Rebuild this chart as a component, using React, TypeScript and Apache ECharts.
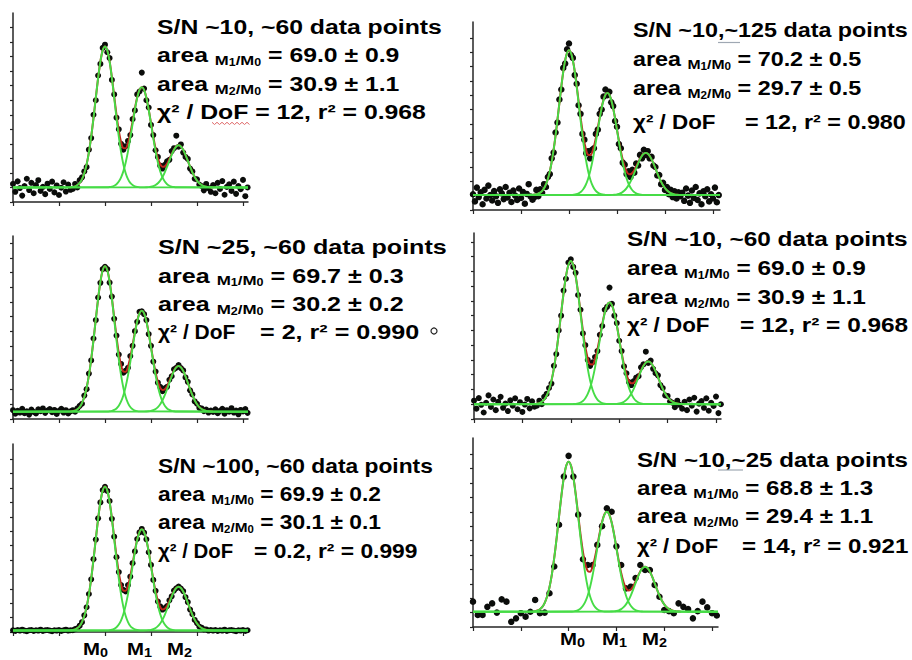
import React, { useEffect, useRef } from "react";
import * as echarts from "echarts";

// ---------- axis ticks ----------
const X_TICKS = [0, 1, 2, 3, 4, 5];
const Y_TICKS = [0, 0.5, 1, 1.5, 2, 2.5, 3, 3.5, 4, 4.5, 5, 5.5, 6];

// ---------- fitted peaks (x units; M0, M1, M2) ----------
const PEAK_CENTERS = [2.0, 2.8, 3.6];
// fitted peak profile read at 0.05 x-unit steps, from -0.75 to +0.75
const PROFILE_STEP = 0.05;
const PROFILE = [
  0.002, 0.004, 0.008, 0.017, 0.032, 0.059, 0.101, 0.163, 0.249, 0.36, 0.492,
  0.635, 0.775, 0.893, 0.972, 1, 0.972, 0.893, 0.775, 0.635, 0.492, 0.36, 0.249,
  0.163, 0.101, 0.059, 0.032, 0.017, 0.008, 0.004, 0.002,
];
const FIT_BASE = [0.5, 0.52, 0.25, 0.5, 0.05, 0.53];
const FIT_M0 = [4.85, 5.05, 4.97, 4.85, 5.0, 5.21];
const FIT_M1 = [3.45, 3.56, 3.45, 3.45, 3.52, 3.47];
const FIT_M2 = [1.45, 1.47, 1.56, 1.45, 1.52, 1.56];

// ---------- data points (y values at regular x sampling) ----------
const SAMPLE_STEP = [0.05, 0.04, 0.05, 0.05, 0.05, 0.1];

const SN10_60 = [
  0.62, 0.35, 0.71, 0.48, 0.22, 0.55, 0.8, 0.41, 0.66, 0.3, 0.58, 0.75, 0.38,
  0.52, 0.27, 0.63, 0.45, 0.7, 0.33, 0.57, 0.24, 0.49, 0.68, 0.36, 0.6, 0.42,
  0.45, 0.62, 0.5, 0.75, 0.85, 1.05, 1.2, 1.8, 2.2, 3.0, 3.5, 4.35, 4.75, 5.3,
  5.41, 5.15, 4.95, 4.2, 3.7, 2.9, 2.5, 2.0, 1.8, 1.92, 2.1, 2.3, 2.85, 3.15,
  3.7, 3.8, 4.45, 3.9, 3.5, 3.25, 2.65, 2.3, 1.78, 1.55, 1.25, 1.15, 1.28, 1.4,
  1.45, 1.75, 1.85, 2.28, 1.9, 1.98, 1.7, 1.55, 1.48, 1.15, 1.05, 0.8, 0.78,
  0.6, 0.55, 0.4, 0.62, 0.48, 0.35,
  0.58, 0.3, 0.66, 0.45, 0.72, 0.25, 0.52, 0.61, 0.38, 0.7, 0.28, 0.55, 0.44,
  0.76, 0.2, 0.5,
];

const SN10_125 = [
  0.55, 0.3, 0.78, 0.45, 0.62, 0.2, 0.7, 0.4, 0.85, 0.52, 0.33, 0.66, 0.48,
  0.25, 0.72, 0.58, 0.38, 0.8, 0.44, 0.6, 0.28, 0.68, 0.5, 0.35, 0.75, 0.42,
  0.63, 0.22, 0.56, 0.9, 0.47, 0.36,
  0.45, 0.7, 0.48, 0.72, 0.6, 0.9, 0.8, 1.15, 1.25, 1.8, 2.0, 2.7, 3.05, 3.85,
  4.2, 4.95, 5.1, 5.6, 5.8, 5.4, 5.3, 4.7, 4.4, 3.65, 3.35, 2.65, 2.45, 1.98,
  2.05, 1.8, 2.1, 2.15, 2.65, 2.8, 3.35, 3.5, 3.95, 4.2, 4.0, 4.12, 3.75, 3.62,
  3.1, 2.9, 2.3, 2.15, 1.65, 1.58, 1.25, 1.35, 1.15, 1.4, 1.3, 1.62, 1.55,
  1.92, 1.8, 2.1, 1.92, 2.05, 1.8, 1.85, 1.55, 1.5, 1.2, 1.22, 0.9, 0.95, 0.7,
  0.8, 0.55, 0.7, 0.45, 0.65, 0.4, 0.62, 0.48,
  0.6, 0.32, 0.75, 0.5, 0.25, 0.68, 0.42, 0.8, 0.35, 0.58, 0.2, 0.65, 0.48,
  0.72, 0.3, 0.55, 0.4, 0.78, 0.27, 0.52,
];

const SN25_60 = [
  0.3, 0.18, 0.28, 0.22, 0.35, 0.2, 0.26, 0.15, 0.32, 0.24, 0.19, 0.33, 0.27,
  0.36, 0.21, 0.29, 0.34, 0.23, 0.31, 0.17, 0.28, 0.35, 0.22, 0.3, 0.19, 0.26,
  0.3, 0.25, 0.36, 0.45, 0.52, 0.8, 1.02, 1.55, 2.0, 2.75, 3.38, 4.15, 4.65,
  5.12, 5.2, 5.12, 4.66, 4.18, 3.42, 2.85, 2.2, 1.88, 1.58, 1.65, 1.75, 2.15,
  2.5, 3.0, 3.32, 3.66, 3.68, 3.58, 3.38, 2.9, 2.5, 1.96, 1.62, 1.24, 1.1, 0.95,
  1.05, 1.1, 1.34, 1.46, 1.7, 1.75, 1.84, 1.74, 1.66, 1.42, 1.27, 0.98, 0.84,
  0.6, 0.52, 0.38, 0.36, 0.27, 0.32, 0.22, 0.29,
  0.24, 0.33, 0.2, 0.28, 0.35, 0.18, 0.3, 0.25, 0.37, 0.22, 0.29, 0.16, 0.31,
  0.26, 0.34, 0.21,
];

const SN100_60 = [
  0.06, 0.04, 0.07, 0.05, 0.08, 0.05, 0.03, 0.06, 0.07, 0.04, 0.06, 0.05, 0.08,
  0.04, 0.06, 0.07, 0.05, 0.03, 0.06, 0.05, 0.07, 0.04, 0.06, 0.08, 0.05, 0.06,
  0.06, 0.1, 0.13, 0.22, 0.34, 0.58, 0.86, 1.32, 1.83, 2.53, 3.21, 3.95, 4.5,
  4.93, 5.04, 4.9, 4.55, 3.93, 3.31, 2.6, 2.08, 1.63, 1.46, 1.41, 1.63, 1.92,
  2.39, 2.8, 3.23, 3.46, 3.58, 3.45, 3.22, 2.77, 2.33, 1.81, 1.43, 1.06, 0.89,
  0.78, 0.83, 0.9, 1.1, 1.24, 1.44, 1.52, 1.58, 1.51, 1.42, 1.21, 1.04, 0.78,
  0.62, 0.42, 0.31, 0.19, 0.15, 0.09, 0.09, 0.05, 0.07,
  0.05, 0.07, 0.04, 0.06, 0.05, 0.08, 0.04, 0.06, 0.07, 0.05, 0.03, 0.06, 0.05,
  0.07, 0.04, 0.06,
];

const SN10_25 = [
  0.88, 0.42, 0.42, 0.7, 0.82, 0.5, 0.96, 0.88, 0.18, 0.3, 0.48, 0.36, 0.53,
  0.94, 0.48, 0.5, 1.17, 2.1, 3.55, 5.22, 5.94, 5.22, 3.9, 2.35, 2.15, 2.15,
  2.85, 3.5, 4.12, 4.0, 2.8, 2.15, 1.34, 1.4, 1.7, 2.15, 1.98, 1.98, 1.46, 1.05,
  0.59, 0.55, 0.48, 0.82, 0.7, 0.62, 0.3, 0.55, 0.88, 0.68, 0.48, 0.4,
];

const PANEL_DATA = [SN10_60, SN10_125, SN25_60, SN10_60, SN100_60, SN10_25];

// ---------- texts ----------
const TITLES = [
  "S/N ~10, ~60 data points",
  "S/N ~10,~125 data points",
  "S/N ~25, ~60 data points",
  "S/N ~10, ~60 data points",
  "S/N ~100, ~60 data points",
  "S/N ~10,~25 data points",
];
const AREA_M1 = ["69.0 ± 0.9", "70.2 ± 0.5", "69.7 ± 0.3", "69.0 ± 0.9", "69.9 ± 0.2", "68.8 ± 1.3"];
const AREA_M2 = ["30.9 ± 1.1", "29.7 ± 0.5", "30.2 ± 0.2", "30.9 ± 1.1", "30.1 ± 0.1", "29.4 ± 1.1"];
const CHI2 = ["12", "12", "2", "12", "0.2", "14"];
const R2 = ["0.968", "0.980", "0.990", "0.968", "0.999", "0.921"];
const PEAK_LABELS = ["0", "1", "2"];

// ---------- layout (pixels) ----------
const LAYOUT = [
  { left: 13, top: 13, width: 235, height: 189, xMax: 5.109, yMax: 6.5, dot: 6, tx: 157, ty: [27.5, 55.5, 84, 112.5], sx: 1.239, lsx: 1.239, eqX: 0 },
  { left: 473, top: 22, width: 247, height: 188, xMax: 5.146, yMax: 6.55, dot: 6.5, tx: 633, ty: [30.3, 59, 88.5, 122], sx: 1.167, lsx: 1.12, eqX: 745 },
  { left: 13, top: 236, width: 235, height: 183, xMax: 5.109, yMax: 6.25, dot: 6, tx: 158, ty: [247, 275.5, 304, 332], sx: 1.256, lsx: 1.05, eqX: 260 },
  { left: 474, top: 233, width: 247, height: 186, xMax: 5.103, yMax: 6.3, dot: 6, tx: 627, ty: [239.5, 268, 297, 325], sx: 1.221, lsx: 1.12, eqX: 740 },
  { left: 13, top: 444, width: 235, height: 188, xMax: 5.109, yMax: 6.53, dot: 6, tx: 158, ty: [466, 494, 522.5, 551], sx: 1.14, lsx: 1.02, eqX: 254 },
  { left: 473, top: 438, width: 245, height: 189, xMax: 5.125, yMax: 6.56, dot: 6.5, tx: 637, ty: [460, 488, 516.5, 546], sx: 1.207, lsx: 1.1, eqX: 742 },
];
const PEAK_LABEL_POS = [
  { xs: [83, 127, 167], y: 649 },
  { xs: [560, 602, 642], y: 639 },
];

const FONT = "'Liberation Sans', Arial, Helvetica, sans-serif";
const AXIS_COLOR = "#262626";
const GREEN = "#46dc46";
const RED = "#c0281e";

const RICH: any = {
  a: { fontFamily: FONT, fontWeight: "bold", fontSize: 20, lineHeight: 24, fill: "#000", verticalAlign: "middle" },
  m: { fontFamily: FONT, fontWeight: "bold", fontSize: 13.5, lineHeight: 14, fill: "#000", verticalAlign: "bottom" },
  n: { fontFamily: FONT, fontWeight: "bold", fontSize: 10, lineHeight: 7, fill: "#000", verticalAlign: "bottom" },
  M: { fontFamily: FONT, fontWeight: "bold", fontSize: 17, lineHeight: 20, fill: "#000", verticalAlign: "middle" },
  s: { fontFamily: FONT, fontWeight: "bold", fontSize: 12, lineHeight: 11, fill: "#000", verticalAlign: "bottom" },
};

function textEl(x: number, y: number, text: string, sx: number) {
  return {
    type: "text",
    x,
    y,
    scaleX: sx,
    z: 100,
    silent: true,
    style: {
      text,
      rich: RICH,
      fontFamily: FONT,
      fontWeight: "bold",
      fontSize: 20,
      fill: "#000",
      align: "left",
      verticalAlign: "middle",
    },
  };
}

function buildOption() {
  const grid: any[] = [];
  const xAxis: any[] = [];
  const yAxis: any[] = [];
  const series: any[] = [];
  const graphic: any[] = [];

  LAYOUT.forEach((L, i) => {
    grid.push({ left: L.left, top: L.top, width: L.width, height: L.height, containLabel: false });
    xAxis.push({
      type: "value",
      gridIndex: i,
      min: 0,
      max: L.xMax,
      interval: 1,
      axisLine: { show: true, onZero: false, lineStyle: { color: AXIS_COLOR, width: 1.5 } },
      axisTick: { show: true, customValues: X_TICKS, length: 4, lineStyle: { color: AXIS_COLOR, width: 1.2 } },
      axisLabel: { show: false },
      splitLine: { show: false },
    });
    yAxis.push({
      type: "value",
      gridIndex: i,
      min: 0,
      max: L.yMax,
      interval: 1,
      axisLine: { show: true, onZero: false, lineStyle: { color: AXIS_COLOR, width: 1.5 } },
      axisTick: { show: true, customValues: Y_TICKS, length: 3, lineStyle: { color: AXIS_COLOR, width: 1.2 } },
      axisLabel: { show: false },
      splitLine: { show: false },
    });

    const step = SAMPLE_STEP[i];
    const pts = PANEL_DATA[i].map((y, k) => [Number((k * step).toFixed(3)), y]);
    series.push({
      type: "scatter",
      xAxisIndex: i,
      yAxisIndex: i,
      data: pts,
      symbol: "circle",
      symbolSize: L.dot,
      itemStyle: { color: "#0b0d0b", opacity: 1 },
      z: 2,
      silent: true,
    });

    const base = FIT_BASE[i];
    const heights = [FIT_M0[i], FIT_M1[i], FIT_M2[i]];
    const half = (PROFILE.length - 1) / 2;

    // total fit (red)
    const kStart = Math.round(PEAK_CENTERS[0] / PROFILE_STEP) - half;
    const kEnd = Math.round(PEAK_CENTERS[2] / PROFILE_STEP) + half;
    const sum: number[][] = [];
    for (let k = kStart; k <= kEnd; k++) {
      let y = base;
      PEAK_CENTERS.forEach((c, j) => {
        const idx = k - Math.round(c / PROFILE_STEP) + half;
        if (idx >= 0 && idx < PROFILE.length) y += heights[j] * PROFILE[idx];
      });
      sum.push([Number((k * PROFILE_STEP).toFixed(3)), y]);
    }
    series.push({
      type: "line",
      xAxisIndex: i,
      yAxisIndex: i,
      data: sum,
      showSymbol: false,
      smooth: 0.3,
      lineStyle: { color: RED, width: 2 },
      z: 3,
      silent: true,
    });

    // components (green)
    PEAK_CENTERS.forEach((c, j) => {
      const d: number[][] = [[0, base]];
      PROFILE.forEach((v, m) => {
        d.push([Number((c + (m - half) * PROFILE_STEP).toFixed(3)), base + heights[j] * v]);
      });
      d.push([L.xMax, base]);
      series.push({
        type: "line",
        xAxisIndex: i,
        yAxisIndex: i,
        data: d,
        showSymbol: false,
        smooth: 0.3,
        lineStyle: { color: GREEN, width: 1.9 },
        z: 4,
        silent: true,
      });
    });

    // annotation text
    graphic.push(textEl(L.tx, L.ty[0], `{a|${TITLES[i]}}`, L.sx));
    graphic.push(textEl(L.tx, L.ty[1], `{a|area }{m|M}{n|1}{m|/M}{n|0}{a| }{a|= ${AREA_M1[i]}}`, L.sx));
    graphic.push(textEl(L.tx, L.ty[2], `{a|area }{m|M}{n|2}{m|/M}{n|0}{a| }{a|= ${AREA_M2[i]}}`, L.sx));
    if (L.eqX === 0) {
      graphic.push(textEl(L.tx, L.ty[3], `{a|χ² / DoF = ${CHI2[i]}, r² = ${R2[i]}}`, L.sx));
    } else {
      graphic.push(textEl(L.tx, L.ty[3], `{a|χ² / DoF}`, L.lsx));
      graphic.push(textEl(L.eqX, L.ty[3], `{a|= ${CHI2[i]}, r² = ${R2[i]}}`, L.sx));
    }
  });

  // peak labels under the bottom panels
  PEAK_LABEL_POS.forEach((P) => {
    P.xs.forEach((x, j) => {
      graphic.push(textEl(x, P.y, `{M|M}{s|${PEAK_LABELS[j]}}`, 1.2));
    });
  });

  // spell-check underline and small marks seen in the figure
  const squiggle: number[][] = [];
  for (let x = 212, u = 0; x <= 250; x += 2.5, u++) squiggle.push([x, u % 2 === 0 ? 122.3 : 124.5]);
  graphic.push({ type: "polyline", silent: true, z: 101, shape: { points: squiggle }, style: { stroke: "#e06a6a", lineWidth: 1, fill: "none" } });
  graphic.push({ type: "line", silent: true, z: 101, shape: { x1: 718, y1: 42.5, x2: 740, y2: 42.5 }, style: { stroke: "#9fa8b3", lineWidth: 1.2 } });
  graphic.push({ type: "line", silent: true, z: 101, shape: { x1: 718, y1: 470, x2: 743, y2: 470 }, style: { stroke: "#9fa8b3", lineWidth: 1.2 } });
  graphic.push({ type: "circle", silent: true, z: 101, shape: { cx: 434, cy: 331, r: 3 }, style: { stroke: "#222", lineWidth: 1.2, fill: "#fff" } });

  return {
    animation: false,
    backgroundColor: "#ffffff",
    grid,
    xAxis,
    yAxis,
    series,
    graphic,
  };
}

export default function App() {
  const ref = useRef<HTMLDivElement>(null);
  useEffect(() => {
    if (!ref.current) return;
    const chart = echarts.init(ref.current, null, { renderer: "svg" });
    chart.setOption(buildOption() as any);
    return () => chart.dispose();
  }, []);
  return (
    <div
      ref={ref}
      style={{ position: "absolute", left: 0, top: 0, width: 912, height: 660, background: "#fff" }}
    />
  );
}
